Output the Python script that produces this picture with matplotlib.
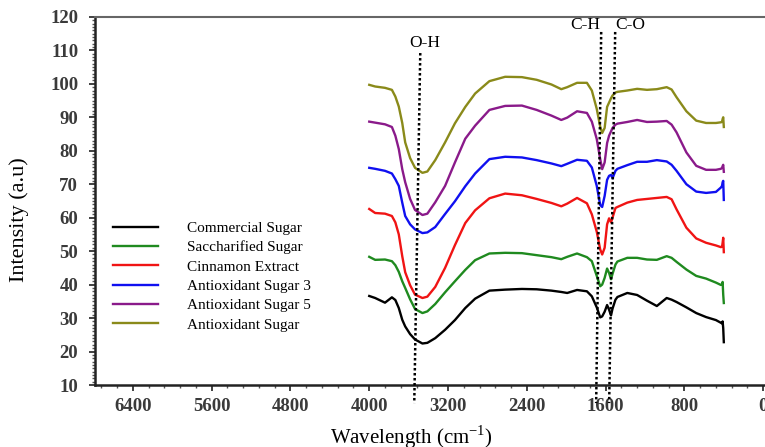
import numpy as np
import matplotlib
matplotlib.use('Agg')
import matplotlib.pyplot as plt
from matplotlib.ticker import MultipleLocator

plt.rcParams['font.family'] = ['Liberation Serif', 'DejaVu Serif']
plt.rcParams['mathtext.fontset'] = 'custom'
plt.rcParams['mathtext.rm'] = 'Liberation Serif'

# wavenumbers (cm-1) shared by all spectra
wavenumber = [4000, 3940, 3840, 3770, 3735, 3700, 3665, 3635, 3585, 3535, 3460, 3410, 3330,
              3230, 3130, 3025, 2925, 2780, 2620, 2450, 2300, 2150, 2050, 1990, 1890, 1790,
              1740, 1690, 1655, 1635, 1610, 1585, 1565, 1545, 1530, 1500, 1480, 1380, 1280,
              1180, 1080, 980, 930, 880, 780, 680, 580, 480, 430, 418, 412, 406, 400]

commercial = [36.6, 36.0, 34.6, 36.2, 35.4, 33.0, 29.5, 27.5, 25.2, 23.6, 22.4, 22.6, 24.0,
              26.5, 29.4, 33.0, 35.8, 38.2, 38.5, 38.7, 38.6, 38.2, 37.8, 37.5, 38.4, 38.0,
              36.5, 33.2, 30.2, 30.5, 31.9, 33.9, 32.5, 30.8, 32.8, 35.5, 36.3, 37.5, 36.9,
              35.2, 33.6, 36.0, 35.5, 34.8, 33.2, 31.5, 30.3, 29.4, 28.6, 28.4, 29.0, 27.0, 22.8]

saccharified = [48.3, 47.4, 47.5, 47.0, 45.8, 43.8, 41.0, 39.0, 35.6, 32.7, 31.5, 32.0, 34.2,
                37.7, 41.0, 44.4, 47.3, 49.3, 49.5, 49.4, 48.8, 48.2, 47.6, 48.3, 49.3, 48.2,
                47.0, 42.6, 39.5, 40.0, 42.0, 44.8, 43.5, 41.6, 43.2, 46.0, 46.9, 48.0, 48.0,
                47.5, 47.4, 48.5, 48.0, 46.8, 44.5, 42.6, 41.8, 40.6, 39.9, 40.2, 40.8, 37.0, 34.5]

cinnamon = [62.6, 61.4, 61.2, 60.5, 58.6, 55.0, 48.5, 43.7, 39.8, 37.0, 36.0, 36.4, 39.3,
            45.0, 51.8, 58.4, 62.2, 65.8, 67.2, 66.7, 65.6, 64.4, 63.4, 64.2, 65.9, 64.3,
            61.0, 55.8, 50.5, 49.0, 51.0, 58.0, 59.8, 58.6, 60.0, 62.9, 63.2, 64.5, 65.3,
            65.6, 65.9, 66.2, 65.5, 62.5, 57.0, 53.8, 52.5, 51.7, 51.2, 51.3, 52.5, 54.0, 49.7]

antiox3 = [74.9, 74.6, 74.0, 73.2, 71.5, 69.5, 64.5, 60.5, 58.0, 56.5, 55.4, 55.6, 57.2,
           61.1, 64.9, 69.4, 73.2, 77.5, 78.2, 78.0, 77.2, 76.2, 75.4, 76.1, 77.3, 77.0,
           75.0, 69.5, 63.8, 63.2, 66.5, 71.3, 72.5, 72.8, 71.8, 74.0, 74.6, 75.7, 76.7,
           76.7, 77.2, 76.8, 75.8, 74.0, 70.0, 67.8, 67.4, 67.7, 69.0, 69.5, 70.6, 71.0, 65.3]

antiox5 = [88.7, 88.4, 87.9, 87.1, 84.5, 80.5, 74.5, 70.6, 65.6, 62.3, 60.8, 61.2, 64.6,
           69.5, 76.5, 83.6, 87.5, 92.2, 93.4, 93.5, 92.2, 90.5, 89.2, 89.9, 91.8, 91.3,
           88.7, 83.5, 77.5, 74.5, 76.5, 82.3, 84.5, 85.8, 86.8, 87.8, 88.1, 88.6, 89.2,
           88.6, 88.7, 88.9, 87.8, 85.5, 79.5, 75.5, 74.3, 74.3, 74.6, 74.9, 75.4, 75.8, 73.7]

antiox = [99.7, 99.2, 98.8, 98.2, 96.2, 93.2, 88.3, 82.5, 77.8, 74.9, 73.4, 73.8, 77.2,
          82.5, 88.2, 93.1, 97.1, 100.8, 102.1, 102.0, 101.2, 99.8, 98.4, 99.0, 100.3, 100.3,
          98.0, 92.5, 87.2, 85.3, 86.8, 93.1, 94.4, 95.7, 96.5, 97.4, 97.6, 98.0, 98.5,
          98.2, 98.4, 99.0, 98.3, 96.0, 91.8, 89.0, 88.3, 88.3, 88.5, 88.6, 89.5, 90.0, 87.1]

series_names = ['Commercial Sugar', 'Saccharified Sugar', 'Cinnamon Extract',
                'Antioxidant Sugar 3', 'Antioxidant Sugar 5', 'Antioxidant Sugar']
series_colors = ['#000000', '#1f8a1f', '#f01414', '#1010f0', '#8a1a8a', '#8a8a1a']

# band markers: label, wavenumber at top / bottom of dotted line
band_labels = ['O-H', 'C-H', 'C-O']
band_top_wn = [3482, 1645, 1503]
band_bottom_wn = [3543, 1696, 1564]
band_top_y = [109.2, 115.5, 115.5]
band_label_wn = [3432, 1807, 1350]
band_label_y = [112.2, 117.6, 117.6]

fig = plt.figure(figsize=(7.65, 4.47), dpi=100)
ax = fig.add_axes([0.124, 0.1387, 0.8994, 0.8235])

all_series = [commercial, saccharified, cinnamon, antiox3, antiox5, antiox]
for vals, name, col in zip(all_series, series_names, series_colors):
    ax.plot(wavenumber, vals, color=col, lw=1.7, label=name)

for lab, wt, wb, yt, lw_, ly in zip(band_labels, band_top_wn, band_bottom_wn,
                                     band_top_y, band_label_wn, band_label_y):
    ax.plot([wt, wb], [yt, 4.6], color='black', ls=(0, (1, 1)), lw=1.8, clip_on=False, zorder=5)
    ax.text(lw_, ly, lab, ha='center', va='center', fontsize=12.5)

ax.set_xlim(6786, -200)
ax.set_ylim(10, 120)
ax.xaxis.set_major_locator(MultipleLocator(800))
ax.xaxis.set_minor_locator(MultipleLocator(160))
ax.yaxis.set_major_locator(MultipleLocator(10))
ax.yaxis.set_minor_locator(MultipleLocator(1))

ax.tick_params(which='major', direction='out', length=4, width=1.3, color='#333333',
               labelsize=13.5, labelcolor='#3a3a3a', pad=5)
ax.tick_params(axis='y', which='major', pad=8)
ax.tick_params(which='minor', direction='out', length=2.5, width=1.0, color='#555555')
ax.tick_params(top=False, right=False)
for lbl in ax.get_xticklabels() + ax.get_yticklabels():
    lbl.set_fontweight('bold')

ax.spines['left'].set_linewidth(1.8)
ax.spines['left'].set_color('#222222')
ax.spines['bottom'].set_linewidth(1.8)
ax.spines['bottom'].set_color('#222222')
ax.spines['top'].set_linewidth(1.5)
ax.spines['top'].set_color('#666666')

ax.set_ylabel('Intensity (a.u)', fontsize=16)
ax.yaxis.set_label_coords(-0.096, 0.448)
ax.set_xlabel(r'Wavelength (cm$^{\mathregular{-1}}$)', fontsize=15)
ax.xaxis.set_label_coords(0.4608, -0.103)

ax.legend(loc='upper left', bbox_to_anchor=(0.148, 0.505), bbox_transform=fig.transFigure,
          frameon=False, fontsize=11, handlelength=2.9, handletextpad=1.96,
          labelspacing=0.37, borderaxespad=0, borderpad=0)

fig.savefig('out.png', dpi=100)
